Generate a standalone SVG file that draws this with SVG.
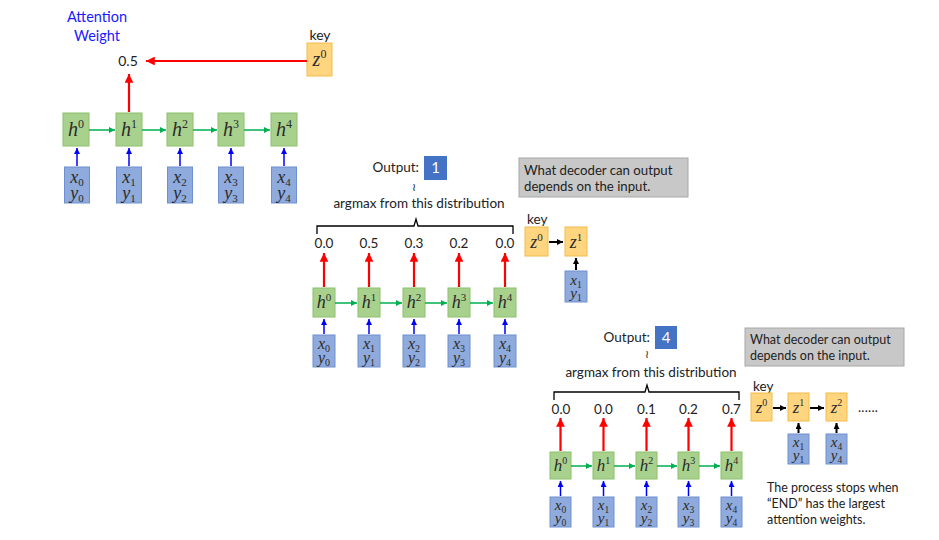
<svg xmlns="http://www.w3.org/2000/svg" width="939" height="540" viewBox="0 0 939 540">
<style>
.hb{fill:#a9d18e;stroke:#8cc06c;stroke-width:1}
.xb{fill:#8faadc;stroke:#6f90d0;stroke-width:1}
.zb{fill:#ffd580;stroke:#f2bb4a;stroke-width:1}
.gb{fill:#c8c8c8;stroke:#a8a8a8;stroke-width:1}
.ob{fill:#4472c4}
.m{font-family:"Liberation Serif","DejaVu Serif",serif;font-style:italic;fill:#2b2b2b;text-anchor:middle}
.n{font-style:normal}
.ha{font-size:20px}.xa{font-size:18px}
.hbb{font-size:18px}.xbb{font-size:16px}
.hc{font-size:17px}.xc{font-size:15px}
.t{font-family:Lato,"Liberation Sans",sans-serif;fill:#222;font-size:13.5px}
.c{text-anchor:middle}
.r{stroke:#ff0000;stroke-width:2.2;fill:none}
.g{stroke:#00b050;stroke-width:1.5;fill:none}
.b{stroke:#0000ff;stroke-width:1.5;fill:none}
.k{stroke:#000;stroke-width:2;fill:none}
</style>
<defs>
<marker id="ar" viewBox="0 0 10 10" refX="10" refY="5" markerWidth="4" markerHeight="4" orient="auto" markerUnits="strokeWidth"><path d="M0,0L10,5L0,10z" fill="#ff0000"/></marker>
<marker id="ag" viewBox="0 0 10 10" refX="10" refY="5" markerWidth="4" markerHeight="4" orient="auto" markerUnits="strokeWidth"><path d="M0,0L10,5L0,10z" fill="#00b050"/></marker>
<marker id="ab" viewBox="0 0 10 10" refX="10" refY="5" markerWidth="4" markerHeight="4" orient="auto" markerUnits="strokeWidth"><path d="M0,0L10,5L0,10z" fill="#0000ff"/></marker>
<marker id="ak" viewBox="0 0 10 10" refX="10" refY="5" markerWidth="3" markerHeight="3" orient="auto" markerUnits="strokeWidth"><path d="M0,0L10,5L0,10z" fill="#000"/></marker>
</defs>
<rect width="939" height="540" fill="#fff"/>

<!-- ===== Section A ===== -->
<g id="labelA">
<text class="t c" x="97" y="22" style="fill:#1a1aff;font-size:14.5px">Attention</text>
<text class="t c" x="97" y="41" style="fill:#1a1aff;font-size:14.5px">Weight</text>
<text class="t c" x="128" y="66" style="font-size:14px">0.5</text>
<text class="t c" x="320" y="40" style="font-size:14px">key</text>
</g>
<g id="A_z0"><rect class="zb" x="307" y="43" width="25" height="33"/><text class="m ha" x="319.5" y="66">z<tspan class="n" font-size="12" dy="-8">0</tspan></text></g>
<g id="A_h0"><rect class="hb" x="63" y="113" width="26" height="33"/><text class="m ha" x="76" y="136">h<tspan class="n" font-size="12" dy="-8">0</tspan></text></g>
<g id="A_h1"><rect class="hb" x="116" y="113" width="26" height="33"/><text class="m ha" x="129" y="136">h<tspan class="n" font-size="12" dy="-8">1</tspan></text></g>
<g id="A_h2"><rect class="hb" x="167" y="113" width="26" height="33"/><text class="m ha" x="180" y="136">h<tspan class="n" font-size="12" dy="-8">2</tspan></text></g>
<g id="A_h3"><rect class="hb" x="218" y="113" width="26" height="33"/><text class="m ha" x="231" y="136">h<tspan class="n" font-size="12" dy="-8">3</tspan></text></g>
<g id="A_h4"><rect class="hb" x="271" y="113" width="26" height="33"/><text class="m ha" x="284" y="136">h<tspan class="n" font-size="12" dy="-8">4</tspan></text></g>
<g id="A_x0"><rect class="xb" x="64.5" y="167" width="25" height="36"/><text class="m xa" x="77" y="183">x<tspan class="n" font-size="11" dy="3">0</tspan><tspan x="77" dy="13">y</tspan><tspan class="n" font-size="11" dy="3">0</tspan></text></g>
<g id="A_x1"><rect class="xb" x="116.5" y="167" width="25" height="36"/><text class="m xa" x="129" y="183">x<tspan class="n" font-size="11" dy="3">1</tspan><tspan x="129" dy="13">y</tspan><tspan class="n" font-size="11" dy="3">1</tspan></text></g>
<g id="A_x2"><rect class="xb" x="167.5" y="167" width="25" height="36"/><text class="m xa" x="180" y="183">x<tspan class="n" font-size="11" dy="3">2</tspan><tspan x="180" dy="13">y</tspan><tspan class="n" font-size="11" dy="3">2</tspan></text></g>
<g id="A_x3"><rect class="xb" x="218.5" y="167" width="25" height="36"/><text class="m xa" x="231" y="183">x<tspan class="n" font-size="11" dy="3">3</tspan><tspan x="231" dy="13">y</tspan><tspan class="n" font-size="11" dy="3">3</tspan></text></g>
<g id="A_x4"><rect class="xb" x="271.5" y="167" width="25" height="36"/><text class="m xa" x="284" y="183">x<tspan class="n" font-size="11" dy="3">4</tspan><tspan x="284" dy="13">y</tspan><tspan class="n" font-size="11" dy="3">4</tspan></text></g>

<!-- ===== Section B ===== -->
<g id="B_output">
<text class="t" x="419" y="172" text-anchor="end">Output:</text>
<rect class="ob" x="424" y="156" width="23" height="24"/>
<text class="t c" x="435.5" y="173" style="fill:#fff;font-size:15px">1</text>
<text class="t c" x="414" y="191" style="font-size:11px">≀</text>
<text class="t c" x="419" y="208">argmax from this distribution</text>
</g>
<g id="B_values">
<text class="t c" x="324" y="248">0.0</text>
<text class="t c" x="369" y="248">0.5</text>
<text class="t c" x="414" y="248">0.3</text>
<text class="t c" x="459" y="248">0.2</text>
<text class="t c" x="505" y="248">0.0</text>
</g>
<g id="B_note"><rect class="gb" x="519" y="158" width="169" height="39"/>
<text class="t" x="524" y="175" style="font-size:13.2px">What decoder can output</text>
<text class="t" x="524" y="191" style="font-size:13.2px">depends on the input.</text></g>
<text class="t" x="527" y="224">key</text>
<g id="B_z0"><rect class="zb" x="525" y="227" width="23" height="29"/><text class="m hbb" x="536.5" y="248">z<tspan class="n" font-size="11" dy="-7">0</tspan></text></g>
<g id="B_z1"><rect class="zb" x="565" y="227" width="22" height="29"/><text class="m hbb" x="576" y="248">z<tspan class="n" font-size="11" dy="-7">1</tspan></text></g>
<g id="B_zx1"><rect class="xb" x="565" y="271" width="22" height="31"/><text class="m xc" x="576" y="285">x<tspan class="n" font-size="9.5" dy="3">1</tspan><tspan x="576" dy="10">y</tspan><tspan class="n" font-size="9.5" dy="3">1</tspan></text></g>
<g id="B_h0"><rect class="hb" x="313" y="288" width="22" height="29"/><text class="m hbb" x="324" y="308">h<tspan class="n" font-size="11" dy="-7">0</tspan></text></g>
<g id="B_h1"><rect class="hb" x="358" y="288" width="22" height="29"/><text class="m hbb" x="369" y="308">h<tspan class="n" font-size="11" dy="-7">1</tspan></text></g>
<g id="B_h2"><rect class="hb" x="403" y="288" width="22" height="29"/><text class="m hbb" x="414" y="308">h<tspan class="n" font-size="11" dy="-7">2</tspan></text></g>
<g id="B_h3"><rect class="hb" x="448" y="288" width="22" height="29"/><text class="m hbb" x="459" y="308">h<tspan class="n" font-size="11" dy="-7">3</tspan></text></g>
<g id="B_h4"><rect class="hb" x="494" y="288" width="22" height="29"/><text class="m hbb" x="505" y="308">h<tspan class="n" font-size="11" dy="-7">4</tspan></text></g>
<g id="B_x0"><rect class="xb" x="313" y="335" width="22" height="32"/><text class="m xbb" x="324" y="349">x<tspan class="n" font-size="10" dy="3">0</tspan><tspan x="324" dy="11">y</tspan><tspan class="n" font-size="10" dy="3">0</tspan></text></g>
<g id="B_x1"><rect class="xb" x="358" y="335" width="22" height="32"/><text class="m xbb" x="369" y="349">x<tspan class="n" font-size="10" dy="3">1</tspan><tspan x="369" dy="11">y</tspan><tspan class="n" font-size="10" dy="3">1</tspan></text></g>
<g id="B_x2"><rect class="xb" x="403" y="335" width="22" height="32"/><text class="m xbb" x="414" y="349">x<tspan class="n" font-size="10" dy="3">2</tspan><tspan x="414" dy="11">y</tspan><tspan class="n" font-size="10" dy="3">2</tspan></text></g>
<g id="B_x3"><rect class="xb" x="448" y="335" width="22" height="32"/><text class="m xbb" x="459" y="349">x<tspan class="n" font-size="10" dy="3">3</tspan><tspan x="459" dy="11">y</tspan><tspan class="n" font-size="10" dy="3">3</tspan></text></g>
<g id="B_x4"><rect class="xb" x="494" y="335" width="22" height="32"/><text class="m xbb" x="505" y="349">x<tspan class="n" font-size="10" dy="3">4</tspan><tspan x="505" dy="11">y</tspan><tspan class="n" font-size="10" dy="3">4</tspan></text></g>

<!-- ===== Section C ===== -->
<g id="C_output">
<text class="t" x="650" y="342" text-anchor="end">Output:</text>
<rect class="ob" x="655" y="326" width="22" height="23"/>
<text class="t c" x="666" y="343" style="fill:#fff;font-size:15px">4</text>
<text class="t c" x="647" y="358" style="font-size:11px">≀</text>
<text class="t c" x="651" y="377">argmax from this distribution</text>
</g>
<g id="C_values">
<text class="t c" x="561" y="414">0.0</text>
<text class="t c" x="603.5" y="414">0.0</text>
<text class="t c" x="646.5" y="414">0.1</text>
<text class="t c" x="688.5" y="414">0.2</text>
<text class="t c" x="731.5" y="414">0.7</text>
</g>
<g id="C_note"><rect class="gb" x="745" y="328" width="159" height="38"/>
<text class="t" x="750" y="344" style="font-size:12.5px">What decoder can output</text>
<text class="t" x="750" y="360" style="font-size:12.5px">depends on the input.</text></g>
<text class="t" x="753" y="391">key</text>
<g id="C_z0"><rect class="zb" x="751" y="393" width="21" height="28"/><text class="m hc" x="761.5" y="413">z<tspan class="n" font-size="10" dy="-7">0</tspan></text></g>
<g id="C_z1"><rect class="zb" x="788" y="393" width="21" height="28"/><text class="m hc" x="798.5" y="413">z<tspan class="n" font-size="10" dy="-7">1</tspan></text></g>
<g id="C_z2"><rect class="zb" x="826" y="393" width="21" height="28"/><text class="m hc" x="836.5" y="413">z<tspan class="n" font-size="10" dy="-7">2</tspan></text></g>
<text class="t" x="858" y="412" style="font-size:13px;letter-spacing:0.3px">......</text>
<g id="C_zx1"><rect class="xb" x="788" y="434" width="21" height="30"/><text class="m xc" x="798.5" y="447">x<tspan class="n" font-size="9.5" dy="3">1</tspan><tspan x="798.5" dy="10">y</tspan><tspan class="n" font-size="9.5" dy="3">1</tspan></text></g>
<g id="C_zx4"><rect class="xb" x="826" y="434" width="21" height="30"/><text class="m xc" x="836.5" y="447">x<tspan class="n" font-size="9.5" dy="3">4</tspan><tspan x="836.5" dy="10">y</tspan><tspan class="n" font-size="9.5" dy="3">4</tspan></text></g>
<g id="C_stop">
<text class="t" x="767" y="492" style="font-size:12.5px">The process stops when</text>
<text class="t" x="767" y="508" style="font-size:12.5px">“END” has the largest</text>
<text class="t" x="767" y="524" style="font-size:12.5px">attention weights.</text>
</g>
<g id="C_h0"><rect class="hb" x="550" y="452" width="21" height="27"/><text class="m hc" x="560.5" y="471">h<tspan class="n" font-size="10" dy="-7">0</tspan></text></g>
<g id="C_h1"><rect class="hb" x="593" y="452" width="21" height="27"/><text class="m hc" x="603.5" y="471">h<tspan class="n" font-size="10" dy="-7">1</tspan></text></g>
<g id="C_h2"><rect class="hb" x="636" y="452" width="21" height="27"/><text class="m hc" x="646.5" y="471">h<tspan class="n" font-size="10" dy="-7">2</tspan></text></g>
<g id="C_h3"><rect class="hb" x="678" y="452" width="21" height="27"/><text class="m hc" x="688.5" y="471">h<tspan class="n" font-size="10" dy="-7">3</tspan></text></g>
<g id="C_h4"><rect class="hb" x="721" y="452" width="21" height="27"/><text class="m hc" x="731.5" y="471">h<tspan class="n" font-size="10" dy="-7">4</tspan></text></g>
<g id="C_x0"><rect class="xb" x="550" y="497" width="21" height="30"/><text class="m xc" x="560.5" y="510">x<tspan class="n" font-size="9.5" dy="3">0</tspan><tspan x="560.5" dy="10">y</tspan><tspan class="n" font-size="9.5" dy="3">0</tspan></text></g>
<g id="C_x1"><rect class="xb" x="593" y="497" width="21" height="30"/><text class="m xc" x="603.5" y="510">x<tspan class="n" font-size="9.5" dy="3">1</tspan><tspan x="603.5" dy="10">y</tspan><tspan class="n" font-size="9.5" dy="3">1</tspan></text></g>
<g id="C_x2"><rect class="xb" x="636" y="497" width="21" height="30"/><text class="m xc" x="646.5" y="510">x<tspan class="n" font-size="9.5" dy="3">2</tspan><tspan x="646.5" dy="10">y</tspan><tspan class="n" font-size="9.5" dy="3">2</tspan></text></g>
<g id="C_x3"><rect class="xb" x="678" y="497" width="21" height="30"/><text class="m xc" x="688.5" y="510">x<tspan class="n" font-size="9.5" dy="3">3</tspan><tspan x="688.5" dy="10">y</tspan><tspan class="n" font-size="9.5" dy="3">3</tspan></text></g>
<g id="C_x4"><rect class="xb" x="721" y="497" width="21" height="30"/><text class="m xc" x="731.5" y="510">x<tspan class="n" font-size="9.5" dy="3">4</tspan><tspan x="731.5" dy="10">y</tspan><tspan class="n" font-size="9.5" dy="3">4</tspan></text></g>

<!-- ===== Connectors ===== -->
<g id="connectors">
<path class="r" d="M307,61H146" marker-end="url(#ar)"/>
<path class="r" d="M129,112V74" marker-end="url(#ar)"/>
<path class="g" d="M89,130H115" marker-end="url(#ag)"/>
<path class="g" d="M142,130H166" marker-end="url(#ag)"/>
<path class="g" d="M193,130H217" marker-end="url(#ag)"/>
<path class="g" d="M244,130H270" marker-end="url(#ag)"/>
<path class="b" d="M77,166V148" marker-end="url(#ab)"/>
<path class="b" d="M129,166V148" marker-end="url(#ab)"/>
<path class="b" d="M180,166V148" marker-end="url(#ab)"/>
<path class="b" d="M231,166V148" marker-end="url(#ab)"/>
<path class="b" d="M284,166V148" marker-end="url(#ab)"/>

<path d="M317,234V226H414L416,219L418,226H513V234" fill="none" stroke="#000" stroke-width="1.3"/>
<path class="r" d="M324,287V253" marker-end="url(#ar)"/>
<path class="r" d="M369,287V253" marker-end="url(#ar)"/>
<path class="r" d="M414,287V253" marker-end="url(#ar)"/>
<path class="r" d="M459,287V253" marker-end="url(#ar)"/>
<path class="r" d="M505,287V253" marker-end="url(#ar)"/>
<path class="g" d="M335,303H357" marker-end="url(#ag)"/>
<path class="g" d="M380,303H402" marker-end="url(#ag)"/>
<path class="g" d="M425,303H447" marker-end="url(#ag)"/>
<path class="g" d="M470,303H493" marker-end="url(#ag)"/>
<path class="b" d="M324,334V319" marker-end="url(#ab)"/>
<path class="b" d="M369,334V319" marker-end="url(#ab)"/>
<path class="b" d="M414,334V319" marker-end="url(#ab)"/>
<path class="b" d="M459,334V319" marker-end="url(#ab)"/>
<path class="b" d="M505,334V319" marker-end="url(#ab)"/>
<path class="k" d="M549,242H563" marker-end="url(#ak)"/>
<path class="k" d="M576,270V258" marker-end="url(#ak)"/>

<path d="M554,400V392H645L647,385L649,392H739V400" fill="none" stroke="#000" stroke-width="1.3"/>
<path class="r" d="M560.5,451V418" marker-end="url(#ar)"/>
<path class="r" d="M603.5,451V418" marker-end="url(#ar)"/>
<path class="r" d="M646.5,451V418" marker-end="url(#ar)"/>
<path class="r" d="M688.5,451V418" marker-end="url(#ar)"/>
<path class="r" d="M731.5,451V418" marker-end="url(#ar)"/>
<path class="g" d="M571,466H592" marker-end="url(#ag)"/>
<path class="g" d="M614,466H635" marker-end="url(#ag)"/>
<path class="g" d="M657,466H677" marker-end="url(#ag)"/>
<path class="g" d="M699,466H720" marker-end="url(#ag)"/>
<path class="b" d="M560.5,496V481" marker-end="url(#ab)"/>
<path class="b" d="M603.5,496V481" marker-end="url(#ab)"/>
<path class="b" d="M646.5,496V481" marker-end="url(#ab)"/>
<path class="b" d="M688.5,496V481" marker-end="url(#ab)"/>
<path class="b" d="M731.5,496V481" marker-end="url(#ab)"/>
<path class="k" d="M773,408H786" marker-end="url(#ak)"/>
<path class="k" d="M810,408H824" marker-end="url(#ak)"/>
<path class="k" d="M798.5,433V423" marker-end="url(#ak)"/>
<path class="k" d="M836.5,433V423" marker-end="url(#ak)"/>
</g>
</svg>
